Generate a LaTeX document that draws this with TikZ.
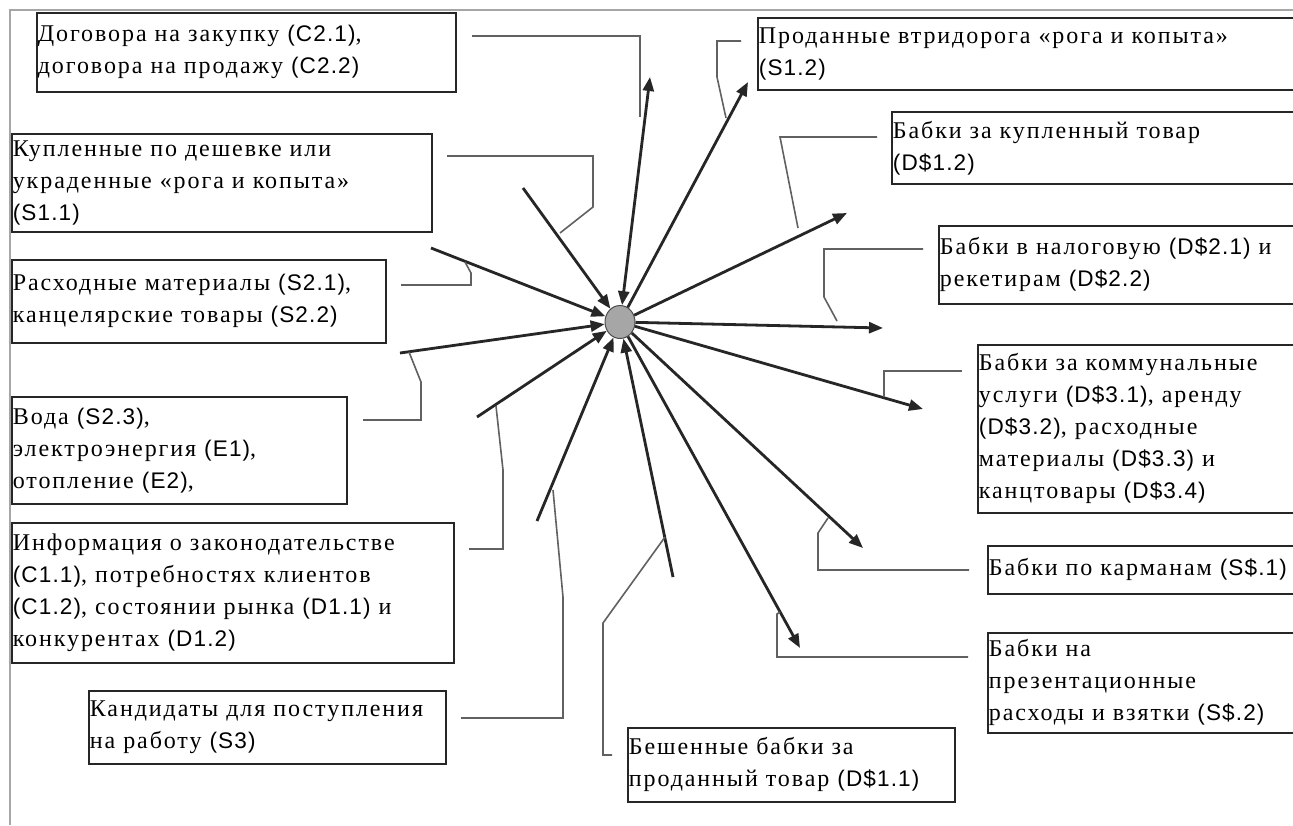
\documentclass[tikz,border=0pt]{standalone}
\usepackage{fontspec}
\setmainfont{Liberation Serif}[LetterSpace=8]
\newfontfamily\codefont{Liberation Sans}[LetterSpace=5,Scale=0.94]
\usetikzlibrary{arrows.meta,shapes.geometric}
\newcommand\cd[1]{{\codefont #1}}
\begin{document}
\begin{tikzpicture}[x=1pt,y=-1pt,
  every node/.style={font=\fontsize{24}{32}\selectfont},
  box/.style={draw=black!85, line width=1.7pt, rectangle, anchor=north west,
    inner xsep=1pt, inner ysep=0pt, align=left},
  arr/.style={draw=black!85, line width=2.8pt, -{Triangle[length=14pt,width=11pt]}},
  arrboth/.style={draw=black!85, line width=2.8pt,
    {Triangle[length=14pt,width=11pt]}-{Triangle[length=14pt,width=11pt]}},
  lead/.style={draw=black!62, line width=1.6pt},
  frame/.style={draw=black!35, line width=1.4pt}]
\clip (0,0) rectangle (1293,825);
\fill[white] (0,0) rectangle (1293,825);

% outer frame (top and left edges)
\coordinate (fa) at (10,825);
\coordinate (fb) at (10,10);
\coordinate (fc) at (1293,10);
\draw[frame] (fa) -- (fb) -- (fc);

% central hub
\node[ellipse, minimum width=30pt, minimum height=33pt, inner sep=0pt,
      fill=black!35, draw=black!70, line width=1pt] (hub) at (620,322) {};

% left column of boxes
\node[box, minimum width=419pt, minimum height=79pt, text width=417pt] (b1) at (36,12)
  {Договора на закупку \cd{(C2.1)},\\договора на продажу \cd{(C2.2)}};
\node[box, minimum width=420pt, minimum height=98pt, text width=418pt] (b2) at (11,133)
  {Купленные по дешевке или\\украденные «рога и копыта»\\\cd{(S1.1)}};
\node[box, minimum width=374pt, minimum height=83pt, text width=372pt] (b3) at (11,259)
  {Расходные материалы \cd{(S2.1)},\\канцелярские товары \cd{(S2.2)}};
\node[box, minimum width=335pt, minimum height=107pt, text width=333pt] (b4) at (11,396)
  {Вода \cd{(S2.3)},\\электроэнергия \cd{(E1)},\\отопление \cd{(E2)},};
\node[box, minimum width=442pt, minimum height=140pt, text width=440pt] (b5) at (11,522)
  {Информация о законодательстве\\\cd{(C1.1)}, потребностях клиентов\\\cd{(C1.2)}, состоянии рынка \cd{(D1.1)} и\\конкурентах \cd{(D1.2)}};
\node[box, minimum width=357pt, minimum height=73pt, text width=355pt] (b6) at (88,690)
  {Кандидаты для поступления\\на работу \cd{(S3)}};
\node[box, minimum width=327pt, minimum height=74pt, text width=325pt] (b7) at (627,727)
  {Бешенные бабки за\\проданный товар \cd{(D\$1.1)}};

% right column of boxes (running off the right edge)
\node[box, minimum width=543pt, minimum height=72pt, text width=541pt] (b8) at (757,17)
  {Проданные втридорога «рога и копыта»\\\cd{(S1.2)}};
\node[box, minimum width=409pt, minimum height=72pt, text width=407pt] (b9) at (891,111)
  {Бабки за купленный товар\\\cd{(D\$1.2)}};
\node[box, minimum width=362pt, minimum height=78pt, text width=360pt] (b10) at (938,225)
  {Бабки в налоговую \cd{(D\$2.1)} и\\рекетирам \cd{(D\$2.2)}};
\node[box, minimum width=323pt, minimum height=168pt, text width=321pt] (b11) at (977,344)
  {Бабки за коммунальные\\услуги \cd{(D\$3.1)}, аренду\\\cd{(D\$3.2)}, расходные\\материалы \cd{(D\$3.3)} и\\канцтовары \cd{(D\$3.4)}};
\node[box, minimum width=313pt, minimum height=48pt, text width=311pt] (b12) at (987,545)
  {Бабки по карманам \cd{(S\$.1)}};
\node[box, minimum width=313pt, minimum height=100pt, text width=311pt] (b13) at (987,632)
  {Бабки на\\презентационные\\расходы и взятки \cd{(S\$.2)}};

% free ends of the flow arrows
\coordinate (sKup) at (523,188);
\coordinate (sRas) at (431,248);
\coordinate (sVod) at (400,353);
\coordinate (sInf) at (477,417);
\coordinate (sKan) at (537,521);
\coordinate (sBes) at (673,577);
\coordinate (tDog) at (650,77);
\coordinate (tPro) at (748,82);
\coordinate (tKup) at (847,213);
\coordinate (tNal) at (883,328);
\coordinate (tKom) at (923,409);
\coordinate (tKar) at (863,548);
\coordinate (tVzy) at (800,648);

% inputs
\draw[arr] (sKup) -- (hub);
\draw[arr] (sRas) -- (hub);
\draw[arr] (sVod) -- (hub);
\draw[arr] (sInf) -- (hub);
\draw[arr] (sKan) -- (hub);
\draw[arr] (sBes) -- (hub);
% contracts go both ways
\draw[arrboth] (hub) -- (tDog);
% outputs
\draw[arr] (hub) -- (tPro);
\draw[arr] (hub) -- (tKup);
\draw[arr] (hub) -- (tNal);
\draw[arr] (hub) -- (tKom);
\draw[arr] (hub) -- (tKar);
\draw[arr] (hub) -- (tVzy);

% label leaders
\coordinate (l1a) at (472,36);  \coordinate (l1b) at (640,117);
\draw[lead] (l1a) -| (l1b);
\coordinate (l2a) at (447,156); \coordinate (l2b) at (593,207); \coordinate (l2c) at (560,233);
\draw[lead] (l2a) -| (l2b) -- (l2c);
\coordinate (l3a) at (401,285); \coordinate (l3b) at (471,273); \coordinate (l3c) at (465,262);
\draw[lead] (l3a) -| (l3b) -- (l3c);
\coordinate (l4a) at (363,420); \coordinate (l4b) at (421,382); \coordinate (l4c) at (409,352);
\draw[lead] (l4a) -| (l4b) -- (l4c);
\coordinate (l5a) at (469,549); \coordinate (l5b) at (503,470); \coordinate (l5c) at (496,406);
\draw[lead] (l5a) -| (l5b) -- (l5c);
\coordinate (l6a) at (461,718); \coordinate (l6b) at (563,597); \coordinate (l6c) at (553,490);
\draw[lead] (l6a) -| (l6b) -- (l6c);
\coordinate (l7a) at (612,755); \coordinate (l7b) at (603,623); \coordinate (l7c) at (665,537);
\draw[lead] (l7a) -| (l7b) -- (l7c);
\coordinate (r1a) at (741,41);  \coordinate (r1b) at (717,77);  \coordinate (r1c) at (726,118);
\draw[lead] (r1a) -| (r1b) -- (r1c);
\coordinate (r2a) at (877,137); \coordinate (r2b) at (780,137); \coordinate (r2c) at (798,228);
\draw[lead] (r2a) -- (r2b) -- (r2c);
\coordinate (r3a) at (923,249); \coordinate (r3b) at (824,297); \coordinate (r3c) at (837,321);
\draw[lead] (r3a) -| (r3b) -- (r3c);
\coordinate (r4a) at (962,371); \coordinate (r4b) at (884,397);
\draw[lead] (r4a) -| (r4b);
\coordinate (r5a) at (969,570); \coordinate (r5b) at (818,533); \coordinate (r5c) at (828,518);
\draw[lead] (r5a) -| (r5b) -- (r5c);
\coordinate (r6a) at (968,657); \coordinate (r6b) at (777,614); \coordinate (r6c) at (780,612);
\draw[lead] (r6a) -| (r6b) -- (r6c);
\end{tikzpicture}
\end{document}
